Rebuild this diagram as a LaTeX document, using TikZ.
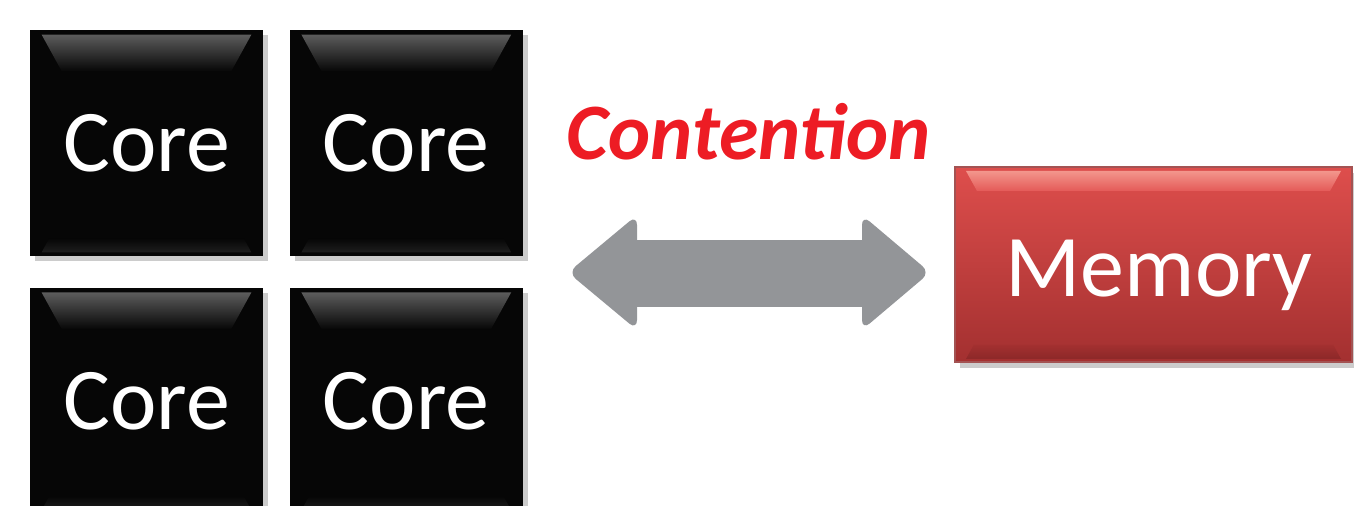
\documentclass[tikz,border=0pt]{standalone}
\usepackage{fontspec}
\setmainfont{Carlito}
\usetikzlibrary{positioning,shadows,calc}
\definecolor{corebg}{HTML}{060606}
\definecolor{coretop}{HTML}{5C5C5C}
\definecolor{coredark}{HTML}{101010}
\definecolor{corelow}{HTML}{1E1E1E}
\definecolor{memtop}{HTML}{DE4E4C}
\definecolor{membot}{HTML}{A33030}
\definecolor{memhi}{HTML}{F3968C}
\definecolor{memmid}{HTML}{E45A58}
\definecolor{memlo}{HTML}{8C2828}
\definecolor{linkgray}{HTML}{939598}
\definecolor{contend}{HTML}{ED1C24}

% bevel strips on a key: node, depth, top colour, bottom colour
\newcommand{\topbevel}[4]{%
  \shade[top color=#3,bottom color=#4]
    ($(#1.north west)+(12,5)$) -- ($(#1.north east)+(-12,5)$)
    -- ($(#1.north east)+(-12-0.55*#2,5+#2)$) -- ($(#1.north west)+(12+0.55*#2,5+#2)$) -- cycle;}
\newcommand{\botbevel}[4]{%
  \shade[top color=#3,bottom color=#4]
    ($(#1.south west)+(12+0.55*#2,-4-#2)$) -- ($(#1.south east)+(-12-0.55*#2,-4-#2)$)
    -- ($(#1.south east)+(-12,-4)$) -- ($(#1.south west)+(12,-4)$) -- cycle;}

\begin{document}
\begin{tikzpicture}[x=0.5pt,y=-0.5pt,
  core/.style={rectangle, minimum width=116.5pt, minimum height=113pt, inner sep=0pt,
    fill=corebg, text=white, text depth=0pt, font=\fontsize{44}{44}\selectfont,
    drop shadow={shadow xshift=2.5pt, shadow yshift=-2.5pt, fill=black!25, opacity=0.8}},
  mem/.style={rectangle, minimum width=198.5pt, minimum height=97.5pt, inner sep=0pt,
    top color=memtop, bottom color=membot, draw=memlo!80, line width=1pt,
    text=white, text depth=0pt, font=\fontsize{44}{44}\selectfont,
    drop shadow={shadow xshift=2.5pt, shadow yshift=-3pt, fill=black!25, opacity=0.8}}]
  \useasboundingbox (0,0) rectangle (1354,506);

  % four cores
  \node[core] (core1) at (146.5,143) {Core};
  \node[core, right=13pt of core1] (core2) {Core};
  \node[core, below=15.5pt of core1] (core3) {Core};
  \node[core, right=13pt of core3] (core4) {Core};
  \foreach \c in {core1,core2,core3,core4}{
    \topbevel{\c}{37}{coretop}{corebg}
    \botbevel{\c}{14}{corebg}{corelow}
  }

  % memory
  \node[mem] (mem) at (1153.5,264.5) {};
  \topbevel{mem}{20}{memhi}{memmid}
  \botbevel{mem}{14}{membot}{memlo}
  \node[text=white, text depth=0pt, font=\fontsize{44}{44}\selectfont] (memtxt) at (1159,268) {Memory};

  % fat double arrow
  \coordinate (lt) at (568,272.5);
  \coordinate (rt) at (930,272.5);
  \fill[linkgray] (637,240) rectangle (862,307);
  \fill[linkgray, rounded corners=5pt] (lt) -- (637,215) -- (637,330) -- cycle;
  \fill[linkgray, rounded corners=5pt] (rt) -- (862,215) -- (862,330) -- cycle;
  \node[contend, text depth=0pt, font=\fontsize{40}{40}\selectfont\bfseries\itshape] (label) at (749,131) {Contention};
\end{tikzpicture}
\end{document}
